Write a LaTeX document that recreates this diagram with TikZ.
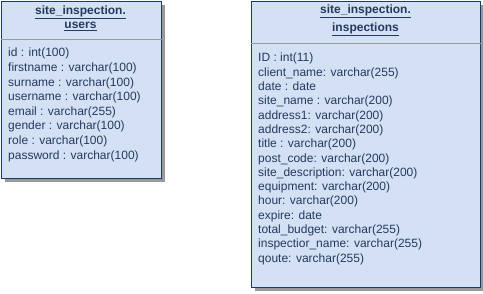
\documentclass[tikz,border=0pt]{standalone}
\usepackage{fontspec}
\setmainfont{Liberation Sans}
\usetikzlibrary{shadows}

\definecolor{tblfill}{HTML}{D4E1F5}
\definecolor{tbldraw}{HTML}{1B3A66}
\definecolor{tbltext}{HTML}{243A5E}
\definecolor{tblsep}{HTML}{9A9A9A}

\begin{document}
\begin{tikzpicture}[x=1pt,y=-1pt,
	table/.style={draw=tbldraw, fill=tblfill, line width=1.1pt, anchor=north west,
		inner sep=0pt, drop shadow={shadow xshift=3pt, shadow yshift=-3pt, fill=black!40, opacity=1}},
	title/.style={text=tbltext, font=\bfseries\fontsize{12}{14}\selectfont, align=center, inner sep=0pt},
	fields/.style={text=tbltext, font=\fontsize{12}{14.6}\selectfont, align=left, anchor=north west, inner sep=0pt},
	sepline/.style={draw=tblsep, line width=0.8pt}]
\useasboundingbox (0,0) rectangle (483,293);

% users table
\node[table, minimum width=160pt, minimum height=177pt] (users) at (1,1) {};
\node[title] (users title) at (80.5,18) {\underline{site\_inspection.}\\\underline{users}};
\draw[sepline] (users.west |- 0,39) -- (users.east |- 0,39);
\node[fields] (users fields) at (8,48) {id : int(100)\\
firstname : varchar(100)\\
surname : varchar(100)\\
username : varchar(100)\\
email : varchar(255)\\
gender : varchar(100)\\
role : varchar(100)\\
password : varchar(100)};

% inspections table
\node[table, minimum width=229pt, minimum height=286pt] (inspections) at (251,1) {};
\node[title, font=\bfseries\fontsize{12}{18}\selectfont] (inspections title) at (365.5,20) {\underline{site\_inspection.}\\\underline{inspections}};
\draw[sepline] (inspections.west |- 0,43) -- (inspections.east |- 0,43);
\node[fields, font=\fontsize{12}{14.3}\selectfont] (inspections fields) at (258,53) {ID : int(11)\\
client\_name: varchar(255)\\
date : date\\
site\_name : varchar(200)\\
address1: varchar(200)\\
address2: varchar(200)\\
title : varchar(200)\\
post\_code: varchar(200)\\
site\_description: varchar(200)\\
equipment: varchar(200)\\
hour: varchar(200)\\
expire: date\\
total\_budget: varchar(255)\\
inspectior\_name: varchar(255)\\
qoute: varchar(255)};
\end{tikzpicture}
\end{document}
